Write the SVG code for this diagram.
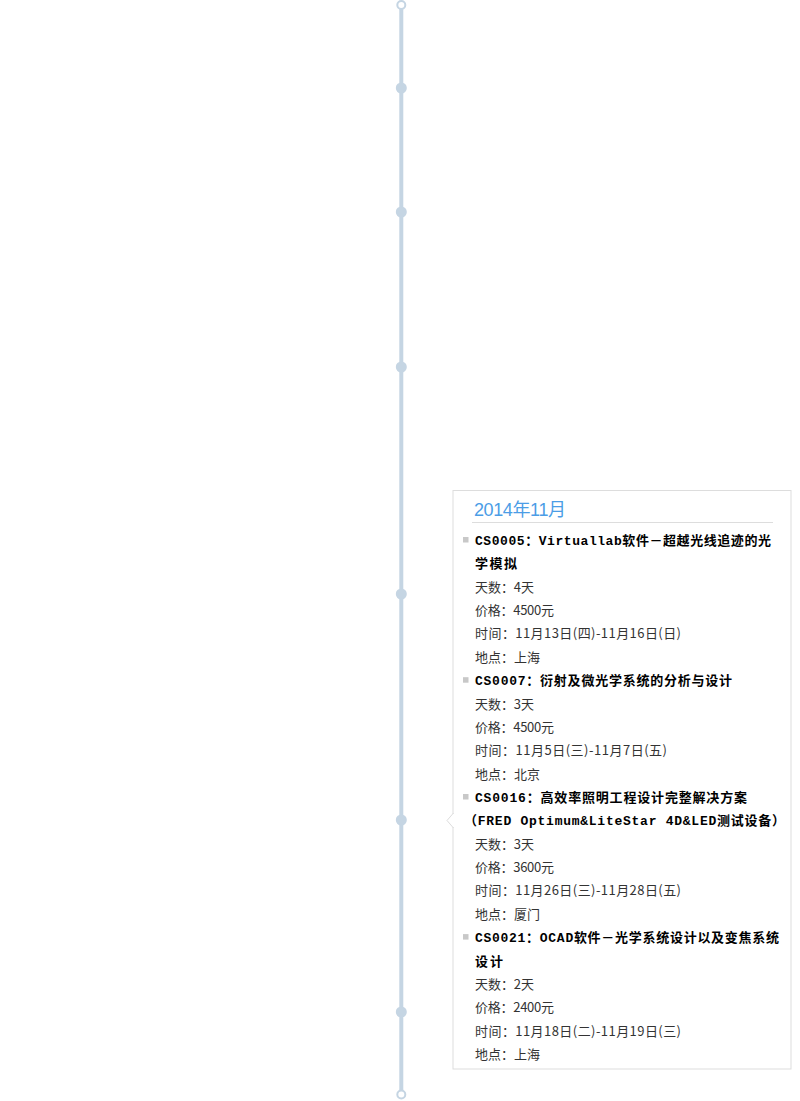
<svg xmlns="http://www.w3.org/2000/svg" width="800" height="1101" viewBox="0 0 800 1101">
<style>
.dot{fill:#c5d5e3}
.end{fill:#fff;stroke:#c5d5e3;stroke-width:2}
.ttl{font-family:'Liberation Mono','Noto Sans CJK SC',monospace;font-size:13px;font-weight:bold;fill:#000}
.det{font-family:'Noto Sans CJK SC',sans-serif;font-size:13px;fill:#333}
.bul{fill:#c8c8c8}
</style>
<rect width="800" height="1101" fill="#fff"/>
<g id="connectors">
<line x1="401.3" y1="9" x2="401.3" y2="1090" stroke="#c5d5e3" stroke-width="4"/>
</g>
<g id="timeline-nodes">
<circle id="start" class="end" cx="401.3" cy="5" r="4"/>
<circle id="n1" class="dot" cx="401.3" cy="88" r="5.5"/>
<circle id="n2" class="dot" cx="401.3" cy="212" r="5.5"/>
<circle id="n3" class="dot" cx="401.3" cy="367" r="5.5"/>
<circle id="n4" class="dot" cx="401.3" cy="594" r="5.5"/>
<circle id="n5" class="dot" cx="401.3" cy="820" r="5.5"/>
<circle id="n6" class="dot" cx="401.3" cy="1012" r="5.5"/>
<circle id="finish" class="end" cx="401.3" cy="1094.5" r="4"/>
</g>
<g id="card-2014-11">
<rect x="453" y="490.5" width="338" height="578.5" fill="#fff" stroke="#ddd" stroke-width="1"/>
<polygon points="453.5,813 447,820.5 453.5,828" fill="#fff" stroke="#ddd" stroke-width="1"/>
<line x1="453.5" y1="813.8" x2="453.5" y2="827.2" stroke="#fff" stroke-width="1.2"/>
<text x="474" y="516" font-family="'Liberation Sans','Noto Sans CJK SC',sans-serif" font-size="18" fill="#4b9de6" textLength="92">2014年11月</text>
<line x1="472" y1="522.5" x2="773" y2="522.5" stroke="#ddd" stroke-width="1"/>
<rect class="bul" x="463" y="537" width="5.5" height="5.5"/>
<text class="ttl" x="475" y="545" textLength="296">CS0005：Virtuallab软件－超越光线追迹的光</text>
<text class="ttl" x="475" y="568.4" textLength="42">学模拟</text>
<text class="det" x="475" y="591.7" textLength="59">天数：4天</text>
<text class="det" x="475" y="615.1" textLength="79">价格：4500元</text>
<text class="det" x="475" y="638.4" textLength="206">时间：11月13日(四)-11月16日(日)</text>
<text class="det" x="475" y="661.8" textLength="65">地点：上海</text>
<rect class="bul" x="463" y="677.2" width="5.5" height="5.5"/>
<text class="ttl" x="475" y="685.2" textLength="257">CS0007：衍射及微光学系统的分析与设计</text>
<text class="det" x="475" y="708.5" textLength="59">天数：3天</text>
<text class="det" x="475" y="731.9" textLength="79">价格：4500元</text>
<text class="det" x="475" y="755.2" textLength="192">时间：11月5日(三)-11月7日(五)</text>
<text class="det" x="475" y="778.6" textLength="65">地点：北京</text>
<rect class="bul" x="463" y="794" width="5.5" height="5.5"/>
<text class="ttl" x="475" y="802" textLength="272">CS0016：高效率照明工程设计完整解决方案</text>
<text class="ttl" x="464" y="825.3" textLength="321">（FRED Optimum&amp;LiteStar 4D&amp;LED测试设备）</text>
<text class="det" x="475" y="848.7" textLength="59">天数：3天</text>
<text class="det" x="475" y="872.1" textLength="79">价格：3600元</text>
<text class="det" x="475" y="895.4" textLength="206">时间：11月26日(三)-11月28日(五)</text>
<text class="det" x="475" y="918.8" textLength="65">地点：厦门</text>
<rect class="bul" x="463" y="934.1" width="5.5" height="5.5"/>
<text class="ttl" x="475" y="942.1" textLength="304">CS0021：OCAD软件－光学系统设计以及变焦系统</text>
<text class="ttl" x="475" y="965.5" textLength="28">设计</text>
<text class="det" x="475" y="988.9" textLength="59">天数：2天</text>
<text class="det" x="475" y="1012.2" textLength="79">价格：2400元</text>
<text class="det" x="475" y="1035.6" textLength="206">时间：11月18日(二)-11月19日(三)</text>
<text class="det" x="475" y="1058.9" textLength="65">地点：上海</text>
</g>
</svg>
